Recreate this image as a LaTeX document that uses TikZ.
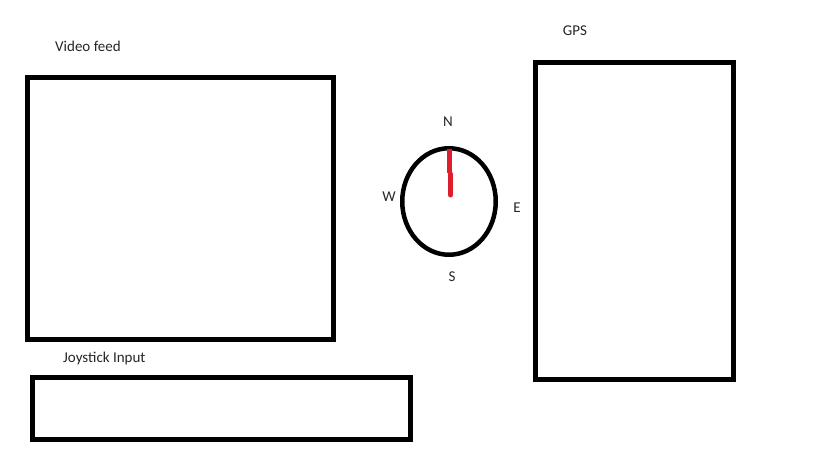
\documentclass[tikz,border=0pt]{standalone}
\usepackage{fontspec}
\setmainfont{Carlito}
\usetikzlibrary{shapes.geometric}
\definecolor{needlered}{RGB}{222,30,44}
\tikzset{
  box/.style={draw=black, line width=5pt, inner sep=0pt, fill=none},
  lbl/.style={inner sep=0pt, font=\fontsize{15}{17}\selectfont, text=black!85},
}
\begin{document}
\begin{tikzpicture}[x=1pt,y=-1pt]
\useasboundingbox[fill=white] (0,0) rectangle (819,460);
% boxes
\node[box, minimum width=306pt, minimum height=262pt] (video) at (180.5,208.5) {};
\node[box, minimum width=378pt, minimum height=62pt] (joy) at (221.5,408.5) {};
\node[box, minimum width=198pt, minimum height=317pt] (gps) at (634.5,221) {};
% labels
\node[lbl, anchor=west] (videolbl) at (55,46) {Video feed};
\node[lbl, anchor=west] (joylbl) at (63,358) {Joystick Input};
\node[lbl] (gpslbl) at (575,31) {GPS};
% compass
\node[draw=black, line width=4.5pt, ellipse, inner sep=0pt, minimum width=93.5pt, minimum height=106.5pt] (compass) at (449,201.5) {};
\coordinate (ntip) at (449.5,149);
\coordinate (nmid1) at (449.5,173);
\coordinate (nmid2) at (450.5,174);
\coordinate (nend) at (450.5,195);
\draw[needlered, line width=5pt] (ntip) -- (nmid1);
\draw[needlered, line width=5pt, line cap=round] (nmid2) -- (nend);
\node[lbl] (N) at (448,122) {N};
\node[lbl] (W) at (389,197) {W};
\node[lbl] (E) at (517,208) {E};
\node[lbl] (S) at (452,277) {S};
\end{tikzpicture}
\end{document}
